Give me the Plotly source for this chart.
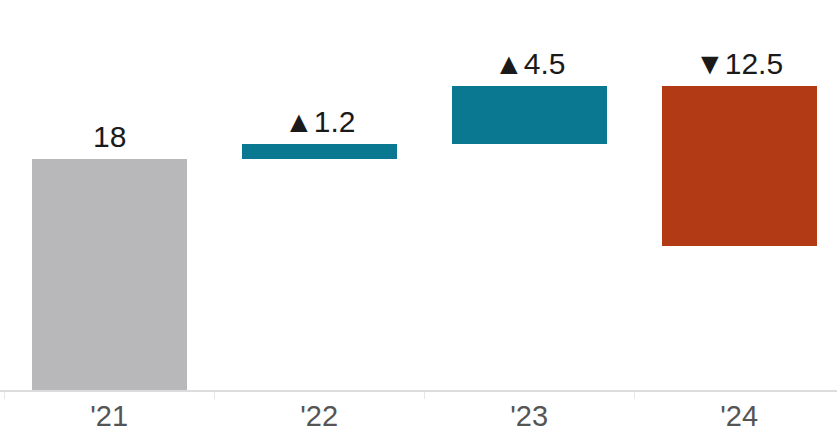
import plotly.graph_objects as go

categories = ["'21", "'22", "'23", "'24"]
values = [18, 1.2, 4.5, -12.5]
measures = ["absolute", "relative", "relative", "relative"]
label_texts = ["18", "▲1.2", "▲4.5", "▼12.5"]

color_total = "#b8b8ba"
color_up = "#0a7891"
color_down = "#b23a14"

bases, heights, colors, tops = [], [], [], []
running = 0.0
for v, m in zip(values, measures):
    if m == "absolute":
        base = 0.0
        h = v
        running = v
        colors.append(color_total)
    else:
        base = running
        h = v
        running = running + v
        colors.append(color_up if v >= 0 else color_down)
    bases.append(base)
    heights.append(h)
    tops.append(max(base, base + h))

fig = go.Figure()
fig.add_trace(go.Bar(
    x=categories, y=heights, base=bases,
    marker=dict(color=colors, line=dict(width=0)),
    width=0.738, hoverinfo="skip", showlegend=False,
))

for c, t, txt in zip(categories, tops, label_texts):
    fig.add_annotation(
        x=c, y=t, text=txt, showarrow=False, yanchor="bottom",
        yshift=4, font=dict(family="Liberation Sans, Arial, sans-serif", size=30, color="#1a1a1a"),
    )

fig.update_layout(
    width=837, height=432,
    margin=dict(l=0, r=0, t=0, b=42),
    paper_bgcolor="white", plot_bgcolor="white",
    bargap=0,
    xaxis=dict(
        type="category", range=[-0.52, 3.466],
        showline=True, linecolor="#dcdcdc", linewidth=1.5,
        ticks="outside", tickson="boundaries", ticklen=7, tickcolor="#e6e6e6",
        tickfont=dict(family="Liberation Sans, Arial, sans-serif", size=29, color="#555555"),
        showgrid=False, zeroline=False, fixedrange=True,
    ),
    yaxis=dict(
        range=[0, 30.4], visible=False, showgrid=False, zeroline=False, fixedrange=True,
    ),
)

fig.write_html(
    "out.html",
    config={"displayModeBar": False, "staticPlot": True},
    post_script="document.body.style.margin='0';document.body.style.overflow='hidden';",
)
